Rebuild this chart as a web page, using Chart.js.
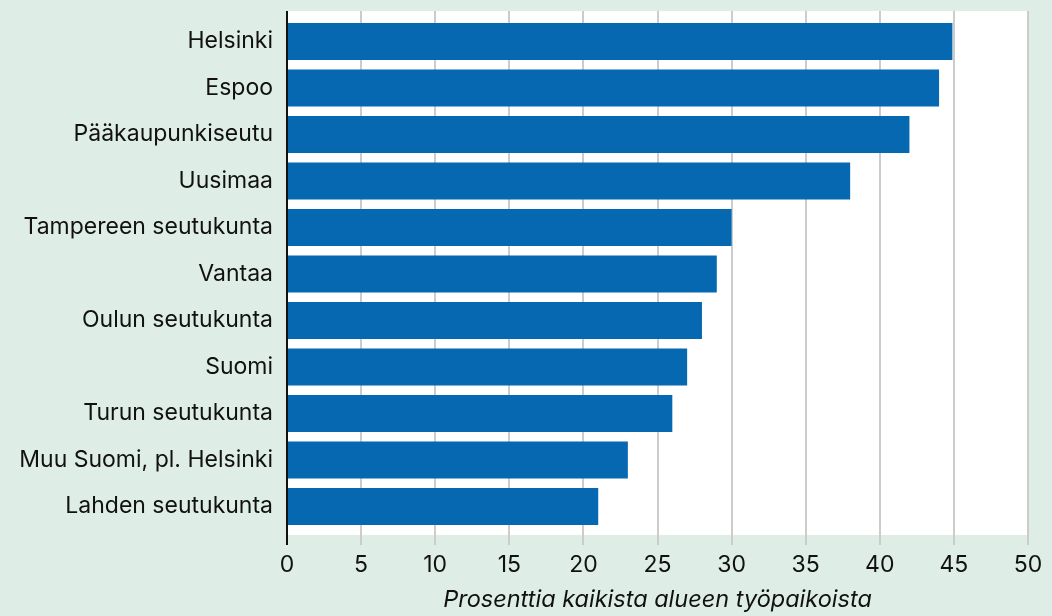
<!DOCTYPE html>
<html>
<head>
<meta charset="utf-8">
<script src="https://cdn.jsdelivr.net/npm/chart.js@4/dist/chart.umd.min.js"></script>
<style>
  html, body { margin: 0; padding: 0; background: #deeee6; }
  #wrap { width: 1052px; height: 616px; }
</style>
</head>
<body>
<div id="wrap"><canvas id="myChart" width="1052" height="616"></canvas></div>
<script>
const regions = [
  "Helsinki",
  "Espoo",
  "Pääkaupunkiseutu",
  "Uusimaa",
  "Tampereen seutukunta",
  "Vantaa",
  "Oulun seutukunta",
  "Suomi",
  "Turun seutukunta",
  "Muu Suomi, pl. Helsinki",
  "Lahden seutukunta",
];
const shares = [44.9, 44, 42, 38, 30, 29, 28, 27, 26, 23, 21];
const xTicks = [0, 5, 10, 15, 20, 25, 30, 35, 40, 45, 50];
const xTitle = "Prosenttia kaikista alueen työpaikoista";

// white plot background
const plotBg = {
  id: "plotBg",
  beforeDraw(chart) {
    const { ctx, chartArea } = chart;
    ctx.save();
    ctx.fillStyle = "#ffffff";
    ctx.fillRect(chartArea.left, chartArea.top, chartArea.right - chartArea.left, chartArea.bottom - chartArea.top);
    ctx.restore();
  },
};

const data = {
  datasets: [
    {
      data: shares.map((v, i) => ({ x: v, y: i })),
      backgroundColor: "#0568b0",
      borderWidth: 0,
      barPercentage: 0.8,
      categoryPercentage: 1,
    },
  ],
};

const config = {
  type: "bar",
  data: data,
  options: {
    indexAxis: "y",
    responsive: false,
    animation: false,
    layout: { padding: { top: 11, right: 24, left: 0, bottom: 0 } },
    plugins: { legend: { display: false }, tooltip: { enabled: false } },
    scales: {
      x: {
        type: "linear",
        min: 0,
        max: 50,
        afterBuildTicks: (s) => { s.ticks = xTicks.map((v) => ({ value: v })); },
        afterFit: (s) => { s.height = 81; },
        grid: {
          color: (c) => (c.tick && c.tick.value === 0 ? "#111111" : "#cccccc"),
          lineWidth: 2,
          tickLength: 10,
        },
        border: { display: false },
        ticks: {
          color: "#111111",
          font: { family: "Inter", size: 23 },
          padding: 6,
        },
        title: {
          display: true,
          text: xTitle,
          color: "#111111",
          font: { family: "Inter", size: 23.5, style: "italic" },
          padding: { top: 0, bottom: 2 },
        },
      },
      y: {
        type: "linear",
        reverse: true,
        offset: false,
        bounds: "data",
        min: -0.656,
        max: 10.613,
        afterBuildTicks: (s) => { s.ticks = regions.map((r, i) => ({ value: i })); },
        afterFit: (s) => { s.width = 287; s.paddingTop = 0; s.paddingBottom = 0; },
        grid: { display: false, drawTicks: false, offset: false },
        border: { display: false },
        ticks: {
          autoSkip: false,
          color: "#111111",
          font: { family: "Inter", size: 23, lineHeight: 0.5 },
          padding: 14,
          callback: (v) => regions[v],
        },
      },
    },
  },
  plugins: [plotBg],
};

const myChart = new Chart(document.getElementById("myChart").getContext("2d"), config);
</script>
</body>
</html>
